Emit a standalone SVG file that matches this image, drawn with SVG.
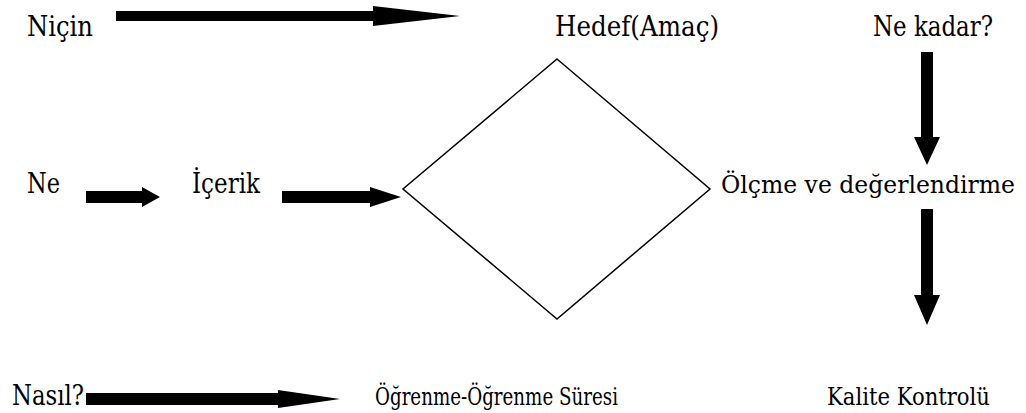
<svg xmlns="http://www.w3.org/2000/svg" width="1026" height="413" viewBox="0 0 1026 413">
<style>
.t{font-family:'DejaVu Serif',serif;font-size:27px;fill:#000}
.s{font-size:24px}
.b{font-size:25px}
.arr{fill:#000;stroke:none}
.dia{fill:#fff;stroke:#000;stroke-width:1.5}
</style>
<rect width="1026" height="413" fill="#fff"/>
<g id="connectors">
<polygon class="arr" points="116,11 373,11 373,6 460,16 373,26 373,21 116,21"/>
<polygon class="arr" points="86,191 142,191 142,187 160,197 142,207 142,203 86,203"/>
<polygon class="arr" points="282,191 370,191 370,187 401,197 370,207 370,203 282,203"/>
<polygon class="arr" points="921,52 933,52 933,137 940,137 927,165 914,137 921,137"/>
<polygon class="arr" points="921,209 933,209 933,295 940,295 927,325 914,295 921,295"/>
<polygon class="arr" points="86,393 278,393 278,390 340,399 278,408 278,405 86,405"/>
</g>
<g id="diamond"><polygon class="dia" points="557,59 710,189 557,319 403,189"/></g>
<g id="n-nicin"><text class="t" x="27" y="36" textLength="66" lengthAdjust="spacingAndGlyphs">Niçin</text></g>
<g id="n-hedef"><text class="t" x="555" y="36" textLength="164" lengthAdjust="spacingAndGlyphs">Hedef(Amaç)</text></g>
<g id="n-nekadar"><text class="t" x="873" y="36" textLength="120" lengthAdjust="spacingAndGlyphs">Ne kadar?</text></g>
<g id="n-ne"><text class="t" x="27" y="193" textLength="33" lengthAdjust="spacingAndGlyphs">Ne</text></g>
<g id="n-icerik"><text class="t" x="192" y="193" textLength="68" lengthAdjust="spacingAndGlyphs">İçerik</text></g>
<g id="n-olcme"><text class="t s" x="721" y="193" textLength="294" lengthAdjust="spacingAndGlyphs">Ölçme ve değerlendirme</text></g>
<g id="n-nasil"><text class="t" x="12" y="405" textLength="72" lengthAdjust="spacingAndGlyphs">Nasıl?</text></g>
<g id="n-ogrenme"><text class="t b" x="375" y="405" textLength="243" lengthAdjust="spacingAndGlyphs">Öğrenme-Öğrenme Süresi</text></g>
<g id="n-kalite"><text class="t b" x="827" y="405" textLength="163" lengthAdjust="spacingAndGlyphs">Kalite Kontrolü</text></g>
</svg>
